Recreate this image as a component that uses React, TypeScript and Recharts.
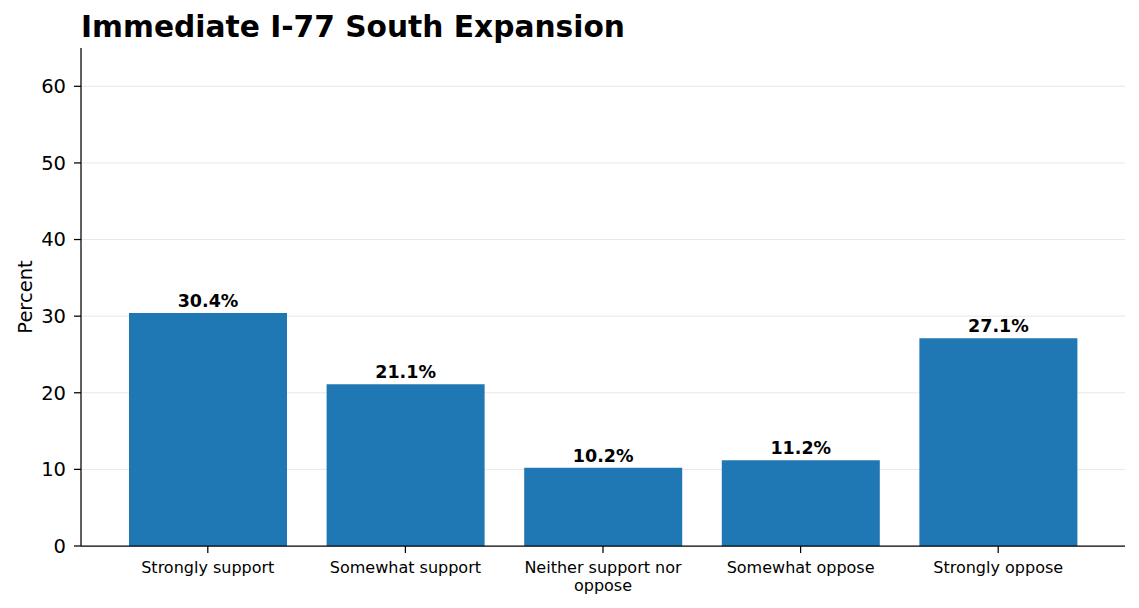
import React from "react";
import { BarChart, Bar, XAxis, YAxis, CartesianGrid, LabelList } from "recharts";

const categories = ["Strongly support", "Somewhat support", "Neither support nor oppose", "Somewhat oppose", "Strongly oppose"];
const percents = [30.4, 21.1, 10.2, 11.2, 27.1];
const yTicks = [0, 10, 20, 30, 40, 50, 60];
const gridValues = [10, 20, 30, 40, 50, 60];

const data = categories.map((c, i) => ({ name: c, value: percents[i] }));

function wrap(s: string, width: number): string[] {
  const words = s.split(" ");
  const lines: string[] = [];
  let cur = "";
  for (const w of words) {
    const t = cur ? cur + " " + w : w;
    if (t.length > width && cur) {
      lines.push(cur);
      cur = w;
    } else cur = t;
  }
  if (cur) lines.push(cur);
  return lines;
}

const XTick = (props: any) => {
  const { x, y, payload } = props;
  const lines = wrap(String(payload.value), 20);
  return (
    <text x={x} y={y} textAnchor="middle" fontSize={16} fill="#000">
      {lines.map((l, i) => (
        <tspan key={i} x={x} dy={18}>
          {l}
        </tspan>
      ))}
    </text>
  );
};

export default function App() {
  return (
    <div style={{ position: "absolute", left: 0, top: 0, width: 1139, height: 608, fontFamily: "'DejaVu Sans', sans-serif", background: "#fff" }}>
      <BarChart width={1139} height={608} data={data} margin={{ top: 48, left: 21, right: 14, bottom: 12 }}>
        <CartesianGrid vertical={false} stroke="#e8e8e8" strokeWidth={1} horizontalValues={gridValues} />
        <XAxis
          dataKey="name"
          padding={{ left: 28, right: 28 }}
          height={50}
          tickSize={7}
          tickMargin={2}
          interval={0}
          stroke="#000"
          strokeWidth={1.25}
          tickLine={{ stroke: "#000", strokeWidth: 1.25 }}
          tick={<XTick />}
        />
        <YAxis
          width={60}
          domain={[0, 65]}
          ticks={yTicks}
          tickSize={7}
          tickMargin={8}
          stroke="#000"
          strokeWidth={1.25}
          tickLine={{ stroke: "#000", strokeWidth: 1.25 }}
          tick={{ fill: "#000", fontSize: 19.5 }}
        />
        <Bar dataKey="value" fill="#1f77b4" barSize={158} isAnimationActive={false}>
          <LabelList
            dataKey="value"
            position="top"
            offset={6}
            formatter={(v: any) => `${Number(v).toFixed(1)}%`}
            style={{ fontWeight: "bold", fontSize: 17.5, fill: "#000" }}
          />
        </Bar>
      </BarChart>
      <svg width={1139} height={608} style={{ position: "absolute", left: 0, top: 0, pointerEvents: "none" }}>
        <text x={81} y={37} fontSize={29.7} fontWeight="bold" fill="#000">
          Immediate I-77 South Expansion
        </text>
        <text x={0} y={0} transform="translate(32,297) rotate(-90)" textAnchor="middle" fontSize={19.5} fill="#000">
          Percent
        </text>
      </svg>
    </div>
  );
}
